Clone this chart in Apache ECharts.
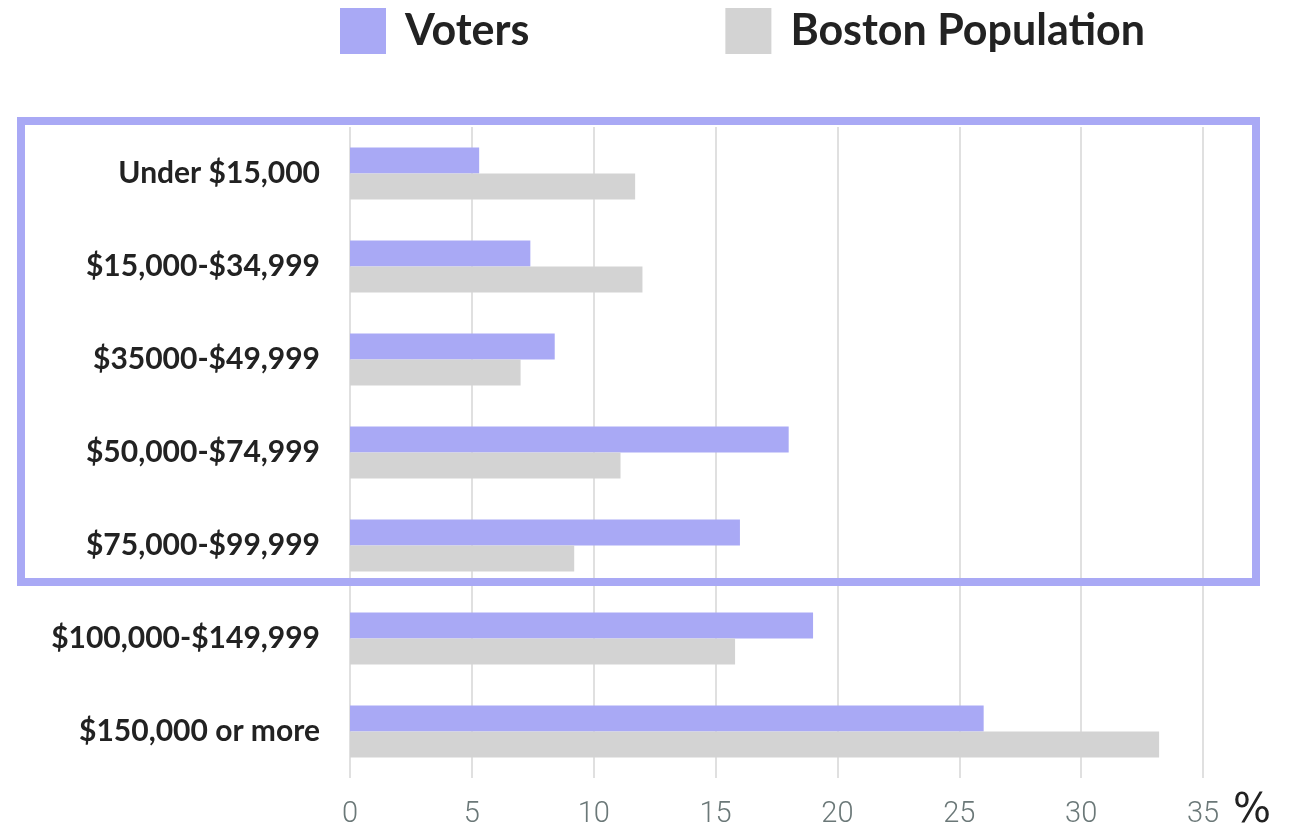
<!DOCTYPE html>
<html>
<head>
<meta charset="utf-8">
<script src="https://cdn.jsdelivr.net/npm/echarts@6/dist/echarts.min.js"></script>
<style>
  html, body { margin: 0; padding: 0; background: #fff; }
  #main { width: 1296px; height: 833px; }
</style>
</head>
<body>
<div id="main"></div>
<script>
// income brackets, top to bottom
const categories = ['Under $15,000', '$15,000-$34,999', '$35000-$49,999', '$50,000-$74,999',
  '$75,000-$99,999', '$100,000-$149,999', '$150,000 or more']
const voters = [5.3, 7.4, 8.4, 18.0, 16.0, 19.0, 26.0]
const bostonPopulation = [11.7, 12.0, 7.0, 11.1, 9.2, 15.8, 33.2]

const chart = echarts.init(document.getElementById('main'))

const option = {
  animation: false,
  backgroundColor: '#fff',
  legend: {
    left: 340,
    top: 8,
    padding: 0,
    itemWidth: 46,
    itemHeight: 46,
    itemGap: 196,
    icon: 'rect',
    textStyle: {
      fontFamily: 'Lato',
      fontWeight: 'bold',
      fontSize: 43,
      lineHeight: 46,
      color: '#222',
      padding: [0, 0, 0, 14]
    },
    data: ['Voters', 'Boston Population']
  },
  grid: {
    left: 350,
    right: 93,
    top: 127,
    bottom: 55
  },
  xAxis: {
    type: 'value',
    min: 0,
    max: 35,
    interval: 5,
    name: '%',
    nameLocation: 'end',
    nameGap: 30,
    nameTextStyle: {
      fontFamily: 'DejaVu Sans',
      fontSize: 40,
      color: '#222',
      verticalAlign: 'top',
      padding: [14, 0, 0, 0]
    },
    axisLine: { show: false },
    axisTick: { show: false },
    axisLabel: {
      fontFamily: 'Roboto',
      fontWeight: 300,
      fontSize: 29,
      color: '#6b7878',
      margin: 22
    },
    splitLine: { lineStyle: { color: '#e0e0e0', width: 2 } }
  },
  yAxis: {
    type: 'category',
    inverse: true,
    data: categories,
    axisLine: { show: false },
    axisTick: { show: false },
    axisLabel: {
      fontFamily: 'Lato',
      fontWeight: 'bold',
      fontSize: 30,
      color: '#222',
      margin: 30
    }
  },
  series: [
    {
      name: 'Voters',
      type: 'bar',
      data: voters,
      barWidth: 26,
      barGap: '0%',
      itemStyle: { color: '#a9a9f5' }
    },
    {
      name: 'Boston Population',
      type: 'bar',
      data: bostonPopulation,
      barWidth: 26,
      barGap: '0%',
      itemStyle: { color: '#d3d3d3' }
    }
  ],
  graphic: [
    {
      type: 'rect',
      z: 100,
      shape: { x: 21, y: 121, width: 1235, height: 461 },
      style: { fill: 'none', stroke: '#a9a9f5', lineWidth: 8 }
    }
  ]
}

chart.setOption(option)
</script>
</body>
</html>
